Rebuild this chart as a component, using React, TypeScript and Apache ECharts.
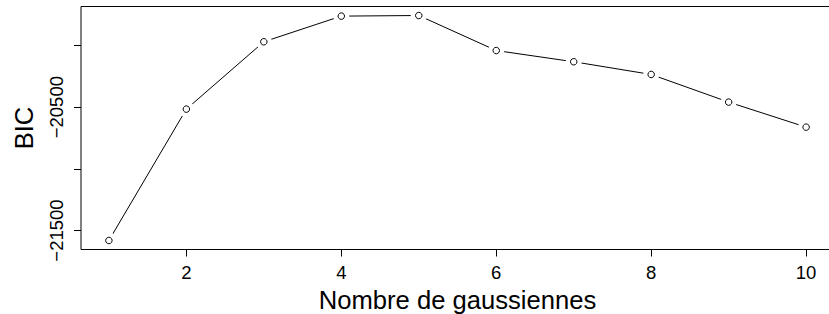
import React, { useEffect, useRef } from "react";
import * as echarts from "echarts";

const components: number[] = [1, 2, 3, 4, 5, 6, 7, 8, 9, 10];
const bicValues: number[] = [-21581, -20516, -19970, -19762, -19757, -20041, -20132, -20235, -20459, -20662];
const xTickValues: number[] = [2, 4, 6, 8, 10];
const yTickValues: number[] = [-21500, -21000, -20500, -20000];
const yLabelValues: number[] = [-21500, -20500];
const xTitle = "Nombre de gaussiennes";
const yTitle = "BIC";

const FONT = "'Liberation Sans', Arial, Helvetica, sans-serif";

export default function App() {
  const ref = useRef<HTMLDivElement>(null);

  useEffect(() => {
    document.body.style.margin = "0";
    if (!ref.current) return;
    const chart = echarts.init(ref.current, null, { renderer: "svg" });
    const points = components.map((c, i) => [c, bicValues[i]]);
    const fmt = (v: number) => String(v).replace("-", "\u2212");
    chart.setOption({
      animation: false,
      backgroundColor: "#ffffff",
      grid: {
        left: 81,
        top: 6.5,
        width: 753,
        height: 243,
        show: true,
        borderColor: "#000000",
        borderWidth: 1,
        backgroundColor: "transparent",
        containLabel: false,
        outerBoundsMode: "none",
      },
      xAxis: {
        type: "value",
        min: 0.64,
        max: 10.36,
        name: xTitle,
        nameLocation: "middle",
        nameGap: 35.5,
        nameTextStyle: { fontFamily: FONT, fontSize: 25.6, color: "#000" },
        axisLine: { show: false },
        splitLine: { show: false },
        axisTick: {
          show: true,
          length: 7,
          inside: false,
          customValues: xTickValues,
          lineStyle: { color: "#000", width: 1 },
        },
        axisLabel: {
          show: true,
          margin: 13.6,
          customValues: xTickValues,
          fontFamily: FONT,
          fontSize: 18.5,
          color: "#000",
          formatter: (v: number) => fmt(v),
        },
      },
      yAxis: {
        type: "value",
        min: -21654,
        max: -19684,
        name: yTitle,
        nameLocation: "middle",
        nameRotate: 90,
        nameGap: 44,
        nameTextStyle: { fontFamily: FONT, fontSize: 25.6, color: "#000" },
        axisLine: { show: false },
        splitLine: { show: false },
        axisTick: {
          show: true,
          length: 7,
          inside: false,
          customValues: yTickValues,
          lineStyle: { color: "#000", width: 1 },
        },
        axisLabel: {
          show: true,
          rotate: 90,
          margin: 15,
          customValues: yLabelValues,
          fontFamily: FONT,
          fontSize: 18.5,
          color: "#000",
          formatter: (v: number) => fmt(v),
        },
      },
      series: [
        {
          type: "line",
          data: points,
          showSymbol: false,
          lineStyle: { color: "#000", width: 1 },
          silent: true,
          z: 1,
        },
        {
          type: "scatter",
          data: points,
          symbol: "circle",
          symbolSize: 16,
          itemStyle: { color: "#ffffff", opacity: 1 },
          silent: true,
          z: 5,
        },
        {
          type: "scatter",
          data: points,
          symbol: "circle",
          symbolSize: 6.5,
          itemStyle: { color: "#ffffff", borderColor: "#000", borderWidth: 1, opacity: 1 },
          silent: true,
          z: 6,
        },
      ],
    });
    return () => chart.dispose();
  }, []);

  return <div ref={ref} style={{ width: 829, height: 314 }} />;
}
